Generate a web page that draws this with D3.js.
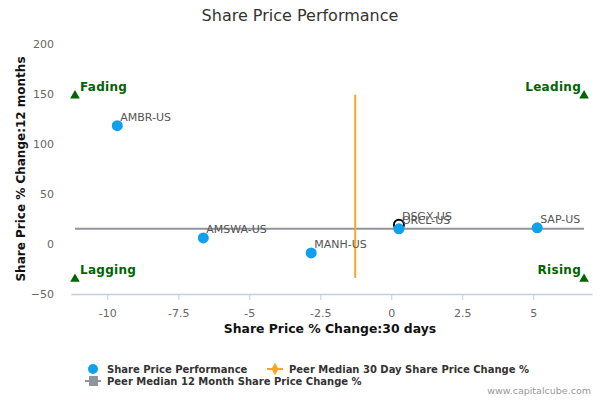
<!DOCTYPE html>
<html>
<head>
<meta charset="utf-8">
<script src="https://cdn.jsdelivr.net/npm/d3@7"></script>
<style>
  body { margin: 0; background: #fff; }
  text { font-family: "DejaVu Sans", sans-serif; }
</style>
</head>
<body>
<script>
// data
var tickers = ["AMBR-US", "AMSWA-US", "MANH-US", "ORCL-US", "SAP-US"];
var change30d = [-9.65, -6.62, -2.82, 0.27, 5.14];
var change12m = [118, 6, -9, 15, 16];

var subject = "DSGX-US";
var subject30d = 0.27;
var subject12m = 19;

var peerMedian30d = -1.27;
var peerMedian12m = 15;

var quadrantX = [-11.14, 6.79];
var quadrantY = [-34, 149];
var quadrantNames = ["Lagging", "Rising", "Fading", "Leading"];

var xTicks = [-10, -7.5, -5, -2.5, 0, 2.5, 5];
var yTicks = [-50, 0, 50, 100, 150, 200];

var width = 600, height = 400;

var svg = d3.select("body")
    .append("svg")
    .attr("width", width)
    .attr("height", height);

var x = d3.scaleLinear().domain([-11.28, 7.07]).range([71, 592]);
var y = d3.scaleLinear().domain([-50, 200]).range([294, 43.5]);

// title
svg.append("text")
    .attr("x", 300).attr("y", 21)
    .attr("text-anchor", "middle")
    .style("font-size", "16px")
    .style("fill", "#333")
    .text("Share Price Performance");

// x axis
var xAxis = svg.append("g")
    .attr("transform", "translate(0," + y(-50) + ")")
    .call(d3.axisBottom(x).tickValues(xTicks).tickSize(6).tickSizeOuter(0)
        .tickFormat(function (d) { return d; }));
xAxis.select(".domain").attr("stroke", "#c0d0e0").attr("stroke-width", 1.5);
xAxis.selectAll(".tick line").attr("stroke", "#c0d0e0");
xAxis.selectAll(".tick text")
    .attr("dy", "1.25em")
    .style("font-size", "11px")
    .style("fill", "#666");

// y axis (labels only)
var yAxis = svg.append("g")
    .attr("transform", "translate(57,0)")
    .call(d3.axisLeft(y).tickValues(yTicks).tickSize(0));
yAxis.select(".domain").remove();
yAxis.selectAll(".tick text")
    .style("font-size", "11px")
    .style("fill", "#666");

// axis titles
svg.append("text")
    .attr("x", 330).attr("y", 333)
    .attr("text-anchor", "middle")
    .style("font-size", "12.4px")
    .style("font-weight", "bold")
    .style("fill", "#111")
    .text("Share Price % Change:30 days");

svg.append("text")
    .attr("transform", "translate(25,169) rotate(-90)")
    .attr("text-anchor", "middle")
    .style("font-size", "12px")
    .style("font-weight", "bold")
    .style("fill", "#111")
    .text("Share Price % Change:12 months");

// peer median lines
svg.append("line")
    .attr("x1", x(quadrantX[0])).attr("x2", x(quadrantX[1]))
    .attr("y1", y(peerMedian12m)).attr("y2", y(peerMedian12m))
    .attr("stroke", "#8f949e")
    .attr("stroke-width", 2);

svg.append("line")
    .attr("x1", x(peerMedian30d)).attr("x2", x(peerMedian30d))
    .attr("y1", y(quadrantY[0])).attr("y2", y(quadrantY[1]))
    .attr("stroke", "#f7a823")
    .attr("stroke-width", 2);

// quadrant markers
var corners = [
    { x: quadrantX[0], y: quadrantY[0], name: quadrantNames[0], anchor: "start" },
    { x: quadrantX[1], y: quadrantY[0], name: quadrantNames[1], anchor: "end" },
    { x: quadrantX[0], y: quadrantY[1], name: quadrantNames[2], anchor: "start" },
    { x: quadrantX[1], y: quadrantY[1], name: quadrantNames[3], anchor: "end" }
];
var tri = d3.symbol().type(d3.symbolTriangle).size(40);
svg.selectAll(".corner")
    .data(corners)
    .enter().append("path")
    .attr("transform", function (d) { return "translate(" + x(d.x) + "," + (y(d.y) + 1) + ")"; })
    .attr("d", tri)
    .attr("fill", "#006400");
svg.selectAll(".cornerLabel")
    .data(corners)
    .enter().append("text")
    .attr("x", function (d) { return x(d.x) + (d.anchor == "start" ? 5 : -3); })
    .attr("y", function (d) { return y(d.y) - 4; })
    .attr("text-anchor", function (d) { return d.anchor; })
    .style("font-size", "12px")
    .style("font-weight", "bold")
    .style("letter-spacing", "0.3px")
    .style("fill", "#006400")
    .text(function (d) { return d.name; });

// subject company, hollow circle
svg.append("circle")
    .attr("cx", x(subject30d)).attr("cy", y(subject12m))
    .attr("r", 5)
    .attr("fill", "none")
    .attr("stroke", "#000")
    .attr("stroke-width", 2);

// peers
var peers = tickers.map(function (t, i) { return { name: t, x: change30d[i], y: change12m[i] }; });
svg.selectAll(".peer")
    .data(peers)
    .enter().append("circle")
    .attr("cx", function (d) { return x(d.x); })
    .attr("cy", function (d) { return y(d.y); })
    .attr("r", 5.5)
    .attr("fill", "#10a0ec");

var labels = peers.concat([{ name: subject, x: subject30d, y: subject12m }]);
svg.selectAll(".peerLabel")
    .data(labels)
    .enter().append("text")
    .attr("x", function (d) { return x(d.x) + 3; })
    .attr("y", function (d) { return y(d.y) - 5; })
    .style("font-size", "11px")
    .style("fill", "#555")
    .text(function (d) { return d.name; });

// legend
var legend = svg.append("g");
legend.append("circle").attr("cx", 93).attr("cy", 369).attr("r", 5).attr("fill", "#10a0ec");
legend.append("text").attr("x", 107).attr("y", 372.5)
    .style("font-size", "10px").style("font-weight", "bold").style("fill", "#333")
    .text("Share Price Performance");

legend.append("line").attr("x1", 267).attr("x2", 283).attr("y1", 369).attr("y2", 369)
    .attr("stroke", "#f7a823").attr("stroke-width", 2);
legend.append("path").attr("transform", "translate(275,369)")
    .attr("d", d3.symbol().type(d3.symbolDiamond).size(45)).attr("fill", "#f7a823");
legend.append("text").attr("x", 289).attr("y", 372.5)
    .style("font-size", "10px").style("font-weight", "bold").style("fill", "#333")
    .text("Peer Median 30 Day Share Price Change %");

legend.append("line").attr("x1", 85).attr("x2", 101).attr("y1", 381).attr("y2", 381)
    .attr("stroke", "#8f949e").attr("stroke-width", 2);
legend.append("rect").attr("x", 89).attr("y", 376).attr("width", 9).attr("height", 10)
    .attr("fill", "#8f949e");
legend.append("text").attr("x", 107).attr("y", 384.5)
    .style("font-size", "10px").style("font-weight", "bold").style("fill", "#333")
    .text("Peer Median 12 Month Share Price Change %");

// credit
svg.append("text")
    .attr("x", 591).attr("y", 394)
    .attr("text-anchor", "end")
    .style("font-size", "9.5px")
    .style("fill", "#999")
    .text("www.capitalcube.com");
</script>
</body>
</html>
